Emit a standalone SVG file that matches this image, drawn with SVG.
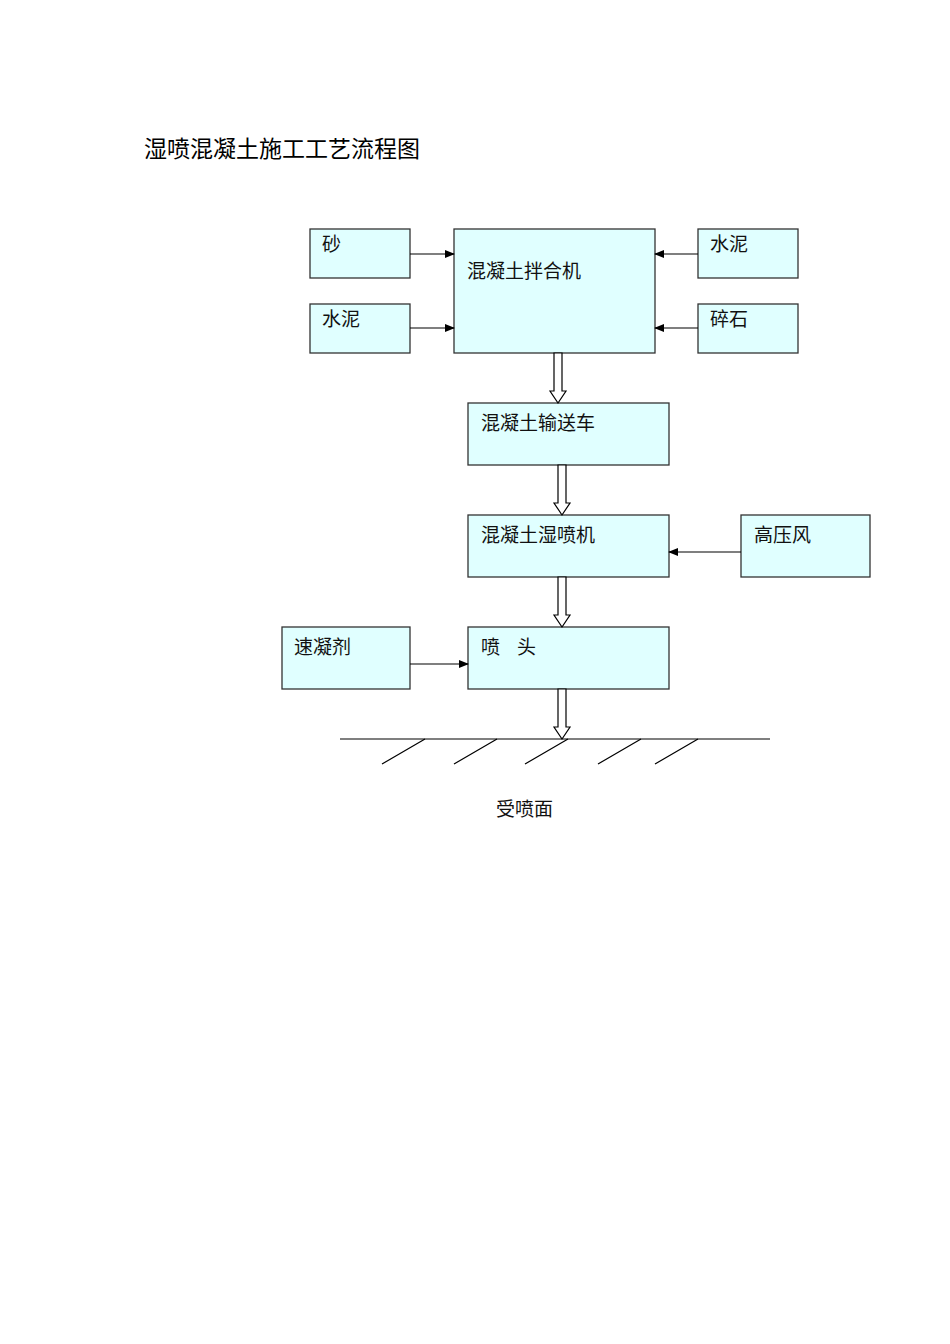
<svg xmlns="http://www.w3.org/2000/svg" width="950" height="1344" viewBox="0 0 950 1344">
<style>
.box{fill:#e0ffff;stroke:#333;stroke-width:1.3}
.t{font-family:"Noto Sans CJK SC",sans-serif;font-size:19px;fill:#111}
.ln{stroke:#000;stroke-width:1.2;fill:none}
.ho{fill:#fff;stroke:#000;stroke-width:1.2}
</style>
<defs><marker id="a" markerWidth="10" markerHeight="8" refX="9" refY="4" orient="auto" markerUnits="userSpaceOnUse"><path d="M0,0L10,4L0,8Z" fill="#000"/></marker></defs>
<rect width="950" height="1344" fill="#fff"/>
<text x="144" y="157" style="font-family:'Noto Sans CJK SC',sans-serif;font-size:23px" fill="#000">湿喷混凝土施工工艺流程图</text>
<g id="n1"><rect class="box" x="310" y="229" width="100" height="49"/><text class="t" x="322" y="251">砂</text></g>
<g id="n2"><rect class="box" x="310" y="304" width="100" height="49"/><text class="t" x="322" y="326">水泥</text></g>
<g id="n3"><rect class="box" x="454" y="229" width="201" height="124"/><text class="t" x="467" y="278">混凝土拌合机</text></g>
<g id="n4"><rect class="box" x="698" y="229" width="100" height="49"/><text class="t" x="710" y="251">水泥</text></g>
<g id="n5"><rect class="box" x="698" y="304" width="100" height="49"/><text class="t" x="710" y="326">碎石</text></g>
<g id="n6"><rect class="box" x="468" y="403" width="201" height="62"/><text class="t" x="481" y="430">混凝土输送车</text></g>
<g id="n7"><rect class="box" x="468" y="515" width="201" height="62"/><text class="t" x="481" y="542">混凝土湿喷机</text></g>
<g id="n8"><rect class="box" x="741" y="515" width="129" height="62"/><text class="t" x="754" y="542">高压风</text></g>
<g id="n9"><rect class="box" x="282" y="627" width="128" height="62"/><text class="t" x="294" y="654">速凝剂</text></g>
<g id="n10"><rect class="box" x="468" y="627" width="201" height="62"/><text class="t" x="481" y="654" xml:space="preserve">喷    头</text></g>
<text class="t" x="496" y="816">受喷面</text>
<g id="connectors">
<line class="ln" x1="410" y1="254" x2="454" y2="254" marker-end="url(#a)"/>
<line class="ln" x1="410" y1="328" x2="454" y2="328" marker-end="url(#a)"/>
<line class="ln" x1="698" y1="254" x2="655" y2="254" marker-end="url(#a)"/>
<line class="ln" x1="698" y1="328" x2="655" y2="328" marker-end="url(#a)"/>
<line class="ln" x1="741" y1="552" x2="669" y2="552" marker-end="url(#a)"/>
<line class="ln" x1="410" y1="664" x2="468" y2="664" marker-end="url(#a)"/>
<path class="ho" d="M554,353V391H550L558,403L566,391H562V353Z"/>
<path class="ho" d="M558,465V503H554L562,515L570,503H566V465Z"/>
<path class="ho" d="M558,577V615H554L562,627L570,615H566V577Z"/>
<path class="ho" d="M558,689V727H554L562,739L570,727H566V689Z"/>
<line class="ln" x1="340" y1="739" x2="770" y2="739"/>
<path class="ln" d="M382,764L425,739M454,764L497,739M525,764L568,739M598,764L641,739M655,764L698,739"/>
</g>
</svg>
